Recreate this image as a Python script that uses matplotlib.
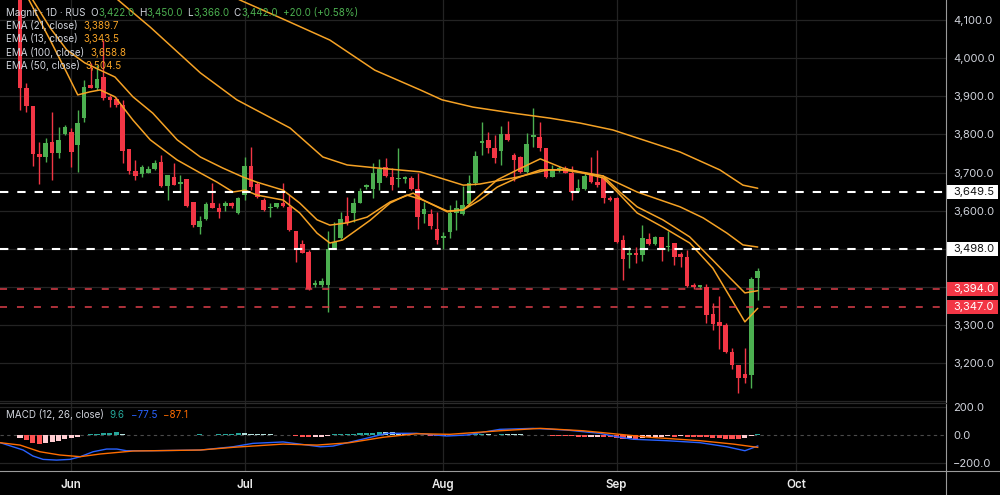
import matplotlib
matplotlib.use("Agg")
import matplotlib.pyplot as plt
from matplotlib.lines import Line2D
from matplotlib.patches import Rectangle
from matplotlib.transforms import blended_transform_factory
import numpy as np

plt.rcParams['font.family'] = ['Inter', 'DejaVu Sans']

# daily candles (bar index 0..115)
opens = [4175, 3922, 3875, 3749, 3741, 3780, 3751, 3801, 3807, 3772,
         3843, 3930, 3922, 3951, 3898, 3893, 3877, 3762, 3704, 3696,
         3700, 3709, 3729, 3665, 3689, 3670, 3682, 3624, 3558, 3578,
         3621, 3608, 3612, 3621, 3594, 3641, 3717, 3670, 3628, 3606,
         3609, 3619, 3609, 3547, 3513, 3492, 3404, 3405, 3404, 3501,
         3527, 3586, 3595, 3621, 3663, 3656, 3672, 3715, 3688, 3682,
         3684, 3686, 3656, 3591, 3591, 3551, 3527, 3545, 3595, 3591,
         3617, 3672, 3778, 3786, 3764, 3757, 3801, 3746, 3742, 3702,
         3794, 3793, 3764, 3689, 3709, 3712, 3698, 3650, 3656, 3694,
         3676, 3685, 3634, 3632, 3523, 3484, 3488, 3484, 3525, 3512,
         3530, 3504, 3516, 3486, 3479, 3404, 3400, 3399, 3329, 3308,
         3300, 3230, 3195, 3171, 3168, 3422]
highs = [4190, 3935, 3875, 3780, 3791, 3859, 3820, 3825, 3817, 3864,
         3943, 3988, 3983, 4048, 3904, 3898, 3891, 3762, 3733, 3720,
         3716, 3733, 3746, 3694, 3724, 3694, 3683, 3624, 3586, 3623,
         3673, 3621, 3626, 3624, 3637, 3742, 3767, 3676, 3633, 3619,
         3621, 3672, 3641, 3547, 3523, 3497, 3418, 3422, 3547, 3571,
         3597, 3637, 3633, 3659, 3669, 3724, 3735, 3737, 3712, 3765,
         3691, 3691, 3700, 3624, 3604, 3597, 3545, 3615, 3628, 3665,
         3694, 3757, 3834, 3807, 3799, 3822, 3836, 3751, 3744, 3803,
         3869, 3834, 3764, 3720, 3716, 3716, 3716, 3682, 3700, 3742,
         3759, 3689, 3639, 3637, 3536, 3505, 3505, 3562, 3541, 3533,
         3532, 3547, 3516, 3492, 3497, 3409, 3405, 3407, 3357, 3376,
         3304, 3239, 3195, 3239, 3427, 3450]
lows = [3864, 3859, 3717, 3670, 3728, 3680, 3738, 3799, 3715, 3702,
        3833, 3922, 3917, 3891, 3872, 3872, 3725, 3696, 3680, 3688,
        3698, 3707, 3663, 3628, 3667, 3650, 3610, 3558, 3539, 3575,
        3607, 3581, 3600, 3606, 3591, 3628, 3654, 3632, 3600, 3584,
        3606, 3610, 3547, 3465, 3488, 3392, 3400, 3400, 3335, 3501,
        3523, 3562, 3571, 3619, 3656, 3632, 3654, 3688, 3654, 3663,
        3673, 3654, 3551, 3567, 3551, 3512, 3499, 3527, 3549, 3589,
        3615, 3667, 3746, 3751, 3726, 3720, 3784, 3679, 3698, 3700,
        3768, 3757, 3685, 3688, 3702, 3698, 3628, 3649, 3654, 3672,
        3663, 3619, 3626, 3516, 3418, 3449, 3462, 3469, 3510, 3510,
        3469, 3495, 3457, 3453, 3400, 3393, 3393, 3306, 3287, 3236,
        3227, 3183, 3120, 3147, 3134, 3366]
closes = [3922, 3875, 3749, 3741, 3778, 3751, 3786, 3820, 3754, 3830,
          3925, 3923, 3946, 3896, 3891, 3877, 3757, 3704, 3691, 3715,
          3709, 3726, 3665, 3694, 3667, 3676, 3612, 3562, 3574, 3617,
          3608, 3597, 3619, 3612, 3632, 3717, 3661, 3636, 3602, 3610,
          3619, 3613, 3549, 3499, 3490, 3393, 3409, 3415, 3499, 3518,
          3578, 3568, 3619, 3652, 3667, 3700, 3709, 3691, 3667, 3687,
          3688, 3656, 3583, 3604, 3560, 3523, 3533, 3595, 3606, 3615,
          3672, 3744, 3784, 3764, 3738, 3801, 3786, 3733, 3702, 3775,
          3799, 3764, 3688, 3709, 3712, 3700, 3650, 3659, 3691, 3676,
          3667, 3632, 3628, 3518, 3472, 3488, 3484, 3529, 3512, 3532,
          3501, 3507, 3479, 3479, 3402, 3399, 3404, 3326, 3302, 3297,
          3230, 3195, 3160, 3161, 3420, 3442]

# EMA curves, sampled off the chart as (bar index, price)
ema13_x = [0, 1.4, 4.7, 7.3, 9.0, 10.9, 12.5, 14.8, 17.6, 20.3, 24.5, 28.1, 30.7,
           33.2, 35.1, 36.9, 41.0, 43.6, 46.3, 48.3, 50.3, 54.6, 57.7, 60.3, 62.8,
           66.6, 69.1, 71.7, 74.4, 77.5, 81.1, 84.6, 90.9, 93.1, 96.2, 100.2, 104.4,
           108.0, 110.7, 113.0, 115]
ema13_y = [4190, 4153, 4048, 3962, 3904, 3912, 3917, 3899, 3838, 3786, 3733, 3699, 3675,
           3649, 3654, 3641, 3628, 3594, 3541, 3515, 3523, 3575, 3620, 3641, 3628,
           3597, 3602, 3641, 3681, 3707, 3736, 3712, 3686, 3649, 3594, 3557, 3515,
           3449, 3373, 3308, 3343.5]
ema21_x = [0, 2.0, 4.7, 7.3, 10.1, 12.5, 14.8, 17.6, 20.7, 24.5, 28.1, 31.6, 34.8,
           36.9, 41.0, 43.6, 46.3, 48.3, 51.0, 54.1, 57.7, 61.3, 62.8, 66.6, 69.1,
           71.7, 74.4, 77.5, 81.1, 84.6, 90.9, 93.5, 96.2, 100.2, 104.4, 108.0, 110.7,
           113.0, 115]
ema21_y = [4200, 4153, 4080, 4022, 3988, 3969, 3951, 3899, 3856, 3786, 3741, 3712, 3688,
           3675, 3654, 3620, 3576, 3562, 3568, 3583, 3623, 3646, 3628, 3599, 3602,
           3628, 3662, 3686, 3707, 3707, 3691, 3649, 3610, 3576, 3531, 3470, 3423,
           3384, 3389.7]
ema50_x = [0, 8, 15.3, 20.3, 28.1, 33.8, 42.1, 47.2, 51.0, 55.7, 62.4, 69.1, 71.7,
           77.5, 82.2, 85.7, 90.9, 96.2, 102.9, 106.5, 110.2, 112.7, 115]
ema50_y = [4360, 4260, 4153, 4082, 3962, 3891, 3817, 3741, 3720, 3712, 3702, 3667, 3670,
           3688, 3707, 3707, 3691, 3649, 3610, 3581, 3541, 3510, 3504.5]
ema100_x = [0, 17, 34.3, 41.3, 48.3, 55.3, 62.4, 65.8, 70.6, 76.9, 82.6, 87.3, 92.4,
            98.2, 102.9, 109.1, 112.7, 115]
ema100_y = [4430, 4300, 4153, 4101, 4048, 3969, 3917, 3891, 3872, 3856, 3843, 3830, 3812,
            3780, 3754, 3707, 3667, 3658.8]

# MACD (12, 26) lines and histogram
macd_x = [-3.1, 0.5, 2.0, 3.6, 5.7, 7.8, 9.4, 11.4, 13.5, 15.1, 16.6, 20.3, 28.1, 33.2,
          36.3, 41.0, 43.6, 46.8, 48.8, 54.0, 57.2, 61.8, 66.5, 69.6, 74.8, 80.0, 85.2,
          90.4, 93.0, 95.6, 100.8, 106.0, 110.2, 113.0, 115]
macd_y = [-54, -106, -148, -172, -177, -172, -153, -118, -99, -99, -111, -111, -106, -83,
          -59, -49, -64, -83, -78, -23, 12, 12, -7, 0, 40, 47, 35,
          12, -12, -30, -40, -54, -83, -111, -77.5]
signal_x = [-3.1, 0, 3.1, 6.2, 9.4, 12.5, 17.6, 28.1, 33.2, 41.0, 46.3, 51.4, 56.6, 61.8,
            67.0, 74.8, 81.1, 87.8, 93.0, 98.2, 106.0, 111.2, 115]
signal_y = [-54, -71, -118, -141, -153, -134, -113, -106, -87, -64, -71, -54, -16, 9,
            5, 30, 47, 30, 7, -16, -40, -64, -87.1]
hist = [-24, -35, -59, -61, -59, -52, -42, -31, -24, -14,
        -3, 7, 9, 12, 14, 19, 10, 3, 1, 2,
        1, 2, -1, 1, 2, 1, 2, 3, 4, 3,
        2, 4, 6, 9, 16, 12, 9, 7, 6, 5,
        3, 1, -2, -6, -12, -14, -14, -12, -5, 5,
        7, 9, 10, 12, 14, 16, 22, 20, 18, 14,
        8, 3, 0, -2, -4, -6, -5, -3, -1, 1,
        3, 5, 7, 5, 3, 9, 8, 5, 4, 3,
        2, 1, -3, -4, -5, -6, -9, -12, -13, -12,
        -11, -12, -13, -19, -28, -24, -35, -24, -14, -12,
        -11, -10, -11, -10, -12, -14, -15, -17, -19, -24,
        -27, -30, -31, -24, -7, 9.6]

levels_white = [3649.5, 3498.0]
levels_red = [3394.0, 3347.0]
price_ticks = [3200, 3300, 3600, 3700, 3800, 3900, 4000, 4100]
grid_levels = [3100, 3200, 3300, 3400, 3500, 3600, 3700, 3800, 3900, 4000, 4100]
macd_ticks = [-200, 0, 200]
month_pos = [8, 35, 66, 93, 121]
month_labels = ['Jun', 'Jul', 'Aug', 'Sep', 'Oct']

bg = '#000000'
grid = '#232323'
txt = '#d1d4dc'
green = '#4caf50'
red = '#f23645'
orange = '#f5a225'

fig = plt.figure(figsize=(10, 4.95), dpi=100, facecolor=bg)
ax = fig.add_axes([0, 92 / 495, 0.946, 403 / 495], facecolor=bg)
mx = fig.add_axes([0, 24 / 495, 0.946, 68 / 495], facecolor=bg, sharex=ax)

ylo, yhi = 3094.9, 4153.2
ax.set_ylim(ylo, yhi)
ax.set_xlim(-3.12, 144.35)
mx.set_ylim(-254, 226)

for a in (ax, mx):
    for s in a.spines.values():
        s.set_visible(False)
    for p in month_pos:
        a.axvline(p, color=grid, lw=0.9, zorder=0)
for g in grid_levels:
    ax.axhline(g, color=grid, lw=0.9, zorder=0)
for g in (-200, 200):
    mx.axhline(g, color=grid, lw=0.9, zorder=0)
mx.axhline(0, color='#4a4a4a', lw=0.8, dashes=(3, 3), zorder=0)

# candles
o, h, l, c = map(np.array, (opens, highs, lows, closes))
idx = np.arange(len(o))
cols = np.where(c >= o, green, red)
ax.vlines(idx, l, h, colors=cols, lw=1.0, zorder=2)
ax.bar(idx, np.maximum(np.abs(c - o), 2.5), bottom=np.minimum(o, c), width=0.72,
       color=cols, linewidth=0, zorder=2)

for xs, ys in ((ema100_x, ema100_y), (ema50_x, ema50_y),
               (ema21_x, ema21_y), (ema13_x, ema13_y)):
    ax.plot(xs, ys, color=orange, lw=1.1, zorder=3, solid_capstyle='round')

# horizontal levels
for lv in levels_white:
    ax.axhline(lv, color='white', lw=1.5, dashes=(4, 4.3), zorder=4)
for lv in levels_red:
    ax.axhline(lv, color='#de3f4b', lw=1.1, dashes=(4.6, 6.5), zorder=4)

# price scale
ax.yaxis.tick_right()
ax.set_yticks(price_ticks)
ax.set_yticklabels([f"{v:,.1f}" for v in price_ticks])
ax.tick_params(axis='y', length=0, pad=5, labelsize=8, labelcolor=txt)
ax.tick_params(axis='x', length=0, labelbottom=False)

tr = blended_transform_factory(ax.transAxes, ax.transData)
box_h = 14 * (yhi - ylo) / 403
for lv, fc, tc in ((levels_white[0], 'white', '#111111'), (levels_white[1], 'white', '#111111'),
                   (levels_red[0], red, 'white'), (levels_red[1], red, 'white')):
    ax.add_patch(Rectangle((947 / 946, lv - box_h / 2), 51 / 946, box_h, transform=tr,
                           facecolor=fc, edgecolor='none', clip_on=False, zorder=5))
    ax.text(953 / 946, lv, f"{lv:,.1f}", transform=tr, ha='left', va='center',
            fontsize=8, color=tc, clip_on=False, zorder=6)

# MACD pane
hcols = []
for i, v in enumerate(hist):
    prev = hist[i - 1] if i else v
    if v >= 0:
        hcols.append('#26a69a' if v >= prev else '#b2dfdb')
    else:
        hcols.append('#ff5252' if v < prev else '#ffcdd2')
mx.bar(idx, hist, width=0.8, color=hcols, linewidth=0, zorder=2)
mx.plot(macd_x, macd_y, color='#2962ff', lw=1.0, zorder=3)
mx.plot(signal_x, signal_y, color='#ff6d00', lw=1.0, zorder=3)
mx.yaxis.tick_right()
mx.set_yticks(macd_ticks)
mx.set_yticklabels(['\u2212200.0', '0.0', '200.0'])
mx.tick_params(axis='y', length=0, pad=5, labelsize=8, labelcolor=txt)
mx.set_xticks(month_pos)
mx.set_xticklabels(month_labels)
mx.tick_params(axis='x', length=0, pad=6, labelsize=8.3, labelcolor='#ececec')
for t in mx.get_xticklabels():
    t.set_fontweight('semibold')

# frame lines
fig.add_artist(Line2D([0.946, 0.946], [0, 1], color='#9a9a9a', lw=0.8))
fig.add_artist(Line2D([0, 1], [24 / 495, 24 / 495], color='#9a9a9a', lw=0.8))
fig.add_artist(Line2D([0, 0.946], [92 / 495, 92 / 495], color='#2c2c2c', lw=0.9))

# legend rows: pieces laid out one after another (gap in px before each piece)
renderer = fig.canvas.get_renderer()


def row(x, base, parts, size=7.1):
    for s, col, gap in parts:
        x += gap
        t = fig.text(x / 1000, 1 - base / 495, s, color=col, fontsize=size,
                     ha='left', va='baseline')
        x += t.get_window_extent(renderer).width


vgreen = '#4caf50'
row(6, 16, [('Magnit \u00b7 1D \u00b7 RUS', txt, 0), ('O', txt, 5), ('3,422.0', vgreen, 0.5),
            ('H', txt, 4), ('3,450.0', vgreen, 0.5), ('L', txt, 4), ('3,366.0', vgreen, 0.5),
            ('C', txt, 4), ('3,442.0', vgreen, 0.5), ('+20.0 (+0.58%)', vgreen, 5)])
row(6, 29, [('EMA (21, close)', txt, 0), ('3,389.7', orange, 6)])
row(6, 42.3, [('EMA (13, close)', txt, 0), ('3,343.5', orange, 6)])
row(6, 55.7, [('EMA (100, close)', txt, 0), ('3,658.8', orange, 6)])
row(6, 69, [('EMA (50, close)', txt, 0), ('3,504.5', orange, 6)])
row(6, 418, [('MACD (12, 26, close)', txt, 0), ('9.6', '#26a69a', 6),
             ('\u221277.5', '#2962ff', 6), ('\u221287.1', '#ff6d00', 6)])

fig.savefig('out.png', dpi=100, facecolor=bg)
